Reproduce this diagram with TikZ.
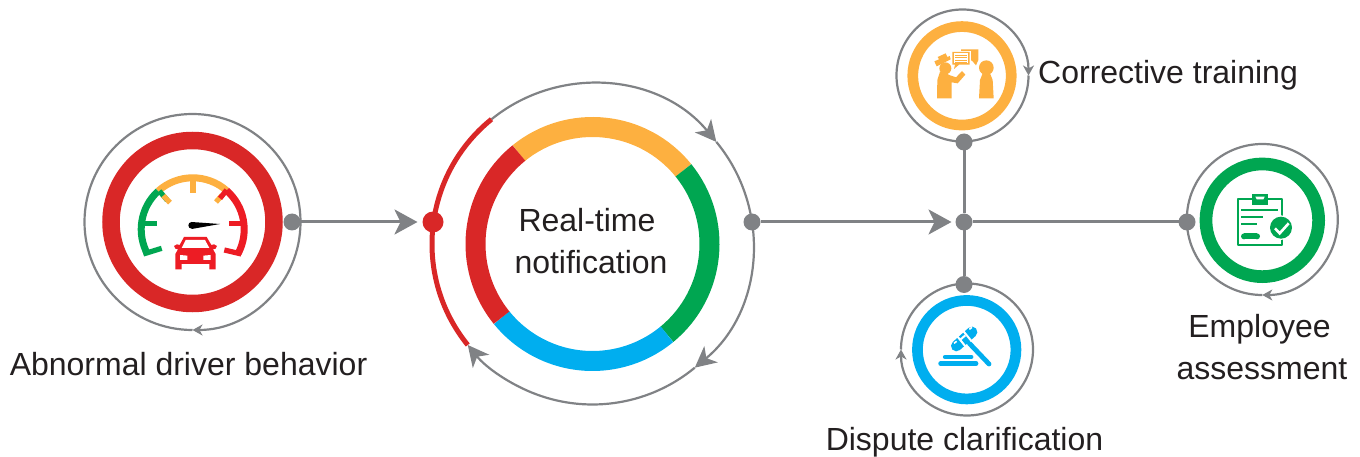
\documentclass[tikz,border=0pt]{standalone}
\usepackage{fontspec}
\setmainfont{Liberation Sans}
\usetikzlibrary{arrows.meta}
\definecolor{cgray}{HTML}{808285}
\definecolor{cred}{HTML}{D92727}
\definecolor{gred}{HTML}{ED1C24}
\definecolor{corange}{HTML}{FDB040}
\definecolor{cgreen}{HTML}{00A651}
\definecolor{cblue}{HTML}{00AEEF}
\definecolor{ctext}{HTML}{231F20}
\tikzset{
  ringnode/.style={circle,draw=#1,inner sep=0pt,outer sep=0pt,fill=white},
  hubdot/.style={circle,fill=cgray,inner sep=0pt,outer sep=0pt,minimum size=17pt},
  orbit/.style={draw=cgray,line width=2.2pt},
  midtip/.style={-{Stealth[length=21pt,width=21pt,inset=6pt]}},
  bigtip/.style={-{Stealth[length=23pt,width=25pt,inset=6pt]}},
  smalltip/.style={-{Stealth[length=10pt,width=11pt,inset=3pt]}},
  conn/.style={draw=cgray,line width=3pt},
  lbl/.style={text=ctext,font=\fontsize{32}{42}\selectfont,inner sep=0pt,align=center},
  icon/.style 2 args={shift={(#1pt,-#2pt)},x=.33333pt,y=-.33333pt}
}
\begin{document}
\begin{tikzpicture}[x=1pt,y=1pt]
\useasboundingbox (0,0) rectangle (1360,-457);
% orbits
\draw[orbit,smalltip] (192.5,-222) ++(-90:108) arc[start angle=-90,end angle=-450,radius=108];
\draw[orbit,smalltip] (962.5,-75.5) ++(0:66) arc[start angle=0,end angle=-360,radius=66];
\draw[orbit,smalltip] (967,-349.5) ++(180:66) arc[start angle=180,end angle=-180,radius=66];
\draw[orbit,smalltip] (1262.3,-219.5) ++(-90:75.5) arc[start angle=-90,end angle=-450,radius=75.5];
\coordinate (mc) at (592.5,-244);
\draw[orbit,midtip] (mc) ++(129:160.5) arc[start angle=129,end angle=39.5,radius=160.5];
\draw[orbit,midtip] (mc) ++(39.5:160.5) arc[start angle=39.5,end angle=-50.4,radius=160.5];
\draw[orbit,midtip] (mc) ++(-50.4:160.5) arc[start angle=-50.4,end angle=-141,radius=160.5];
\draw[cred,line width=5pt] (mc) ++(129:160.5) arc[start angle=129,end angle=219,radius=160.5];
% rings
\node[ringnode=cred,line width=17.5pt,minimum size=163pt] (car) at (192.5,-222) {};
\node[ringnode=corange,line width=10.7pt,minimum size=98.5pt] (train) at (962,-75.8) {};
\node[ringnode=cblue,line width=10.7pt,minimum size=98.5pt] (disp) at (966.7,-349.7) {};
\node[ringnode=cgreen,line width=12.7pt,minimum size=112.7pt] (assess) at (1262.3,-220.3) {};
% main ring
\foreach \a/\b/\c in {129/39/corange,39/-50.5/cgreen,-50.5/-141/cblue,-141/-231/cred}
  \draw[\c,line width=20pt] (mc) ++(\a:117) arc[start angle=\a,end angle=\b,radius=117];
% dots
\node[hubdot] (d1) at (292,-222) {};
\node[hubdot,fill=cred,minimum size=21pt] (d2) at (433,-222) {};
\node[hubdot] (d3) at (752,-222) {};
\node[hubdot] (hub) at (964,-222) {};
\node[hubdot] (dt) at (964,-142) {};
\node[hubdot] (db) at (964,-284.5) {};
\node[hubdot] (dg) at (1187,-222) {};
% connectors
\draw[conn,bigtip,shorten >=5pt] (d1) -- (d2);
\draw[conn,bigtip,shorten >=4pt] (d3) -- (hub);
\draw[conn] (dt) -- (hub);
\draw[conn] (hub) -- (db);
\draw[conn] (hub) -- (dg);
% gauge
\coordinate (gc) at (192.7,-229.3);
\draw[cgreen,line width=7pt] (gc) ++(209:51.5) arc[start angle=209,end angle=132,radius=51.5];
\draw[corange,line width=7pt] (gc) ++(132:51.5) arc[start angle=132,end angle=49,radius=51.5];
\draw[gred,line width=7pt] (gc) ++(49:51.5) arc[start angle=49,end angle=-28,radius=51.5];
\begin{scope}[icon={80}{110}]
 \draw[cgreen,line width=5.2pt] (190,432)--(245,415);
 \draw[cgreen,line width=5.2pt] (190,340)--(231,340);
 \draw[cgreen,line width=5.2pt] (238,243)--(262,271);
 \draw[corange,line width=5.2pt] (250,257)--(270,278);
 \draw[corange,line width=5.2pt] (339,205)--(339,249);
 \draw[corange,line width=5.2pt] (426,256)--(408,276);
 \draw[gred,line width=5.2pt] (440,240)--(420,265);
 \draw[gred,line width=5.2pt] (447,340)--(488,340);
 \draw[gred,line width=5.2pt] (484,432)--(433,420);
 \fill[black] (335,346) circle[radius=10];
 \fill[black] (335,336) -- (420,342) -- (335,357) -- cycle;
 % car
 \fill[gred] (312,381) -- (380,381) -- (394,405) -- (402,403) -- (411,408) -- (407,416) -- (399,418) -- (407,432) -- (407,478) -- (388,478) -- (388,462) -- (305,462) -- (305,478) -- (286,478) -- (286,432) -- (294,418) -- (286,416) -- (282,408) -- (291,403) -- (299,405) -- cycle;
 \fill[white] (317,390) -- (375,390) -- (388,414) -- (305,414) -- cycle;
 \fill[white] (300,435) -- (322,437) -- (322,450) -- (300,450) -- cycle;
 \fill[white] (392,435) -- (370,437) -- (370,450) -- (392,450) -- cycle;
\end{scope}
% training icon
\begin{scope}[icon={890}{0}]
 \fill[corange] (213,148) -- (265,148) -- (265,180) -- (258,196) -- (246,182) -- (213,182) -- cycle;
 \fill[white] (183,152) -- (243,152) -- (243,201) -- (183,201) -- cycle;
 \fill[corange] (187,156) -- (239,156) -- (239,194) -- (207,194) -- (192,207) -- (195,194) -- (187,194) -- cycle;
 \fill[white] (191,160) rectangle (235,190);
 \foreach \y in {165,172,179,186} \fill[corange] (195,\y) rectangle (231,\y+3);
 % hat
 \fill[corange] (133,184) -- (147,178) -- (143,171) -- (167,160) -- (172,171) -- (179,168) -- (182,178) -- (140,199) -- cycle;
 % head
 \fill[corange] (166,205) circle[radius=18];
 % body and arm
 \fill[corange] (141,295) -- (185,295) -- (185,247) -- (203,250) -- (226,224) -- (216,213) -- (198,232) -- (180,226) -- (168,220) -- (150,215) -- (142,240) -- cycle;
 % right person
 \fill[corange] (289,203) circle[radius=22];
 \fill[corange] (280,215) -- (298,215) -- (308,240) -- (311,295) -- (267,295) -- (270,240) -- cycle;
\end{scope}
% gavel icon
\begin{scope}[icon={890}{275}]
 \draw[cblue,line width=4.8pt,line cap=round] (238,205) -- (297,267);
 \draw[cblue,line width=10.7pt,line cap=round] (199,213) -- (246,171);
 \draw[white,line width=2pt] (201,183) -- (227,215);
 \draw[white,line width=2pt] (219,167) -- (245,199);
 \draw[white,line width=2pt] (212,193) -- (226,181);
 \draw[white,line width=1.6pt] (192,205) -- (200,199);
 \draw[white,line width=1.6pt] (238,163) -- (246,157);
 \draw[cblue,line width=4.2pt,line cap=round] (165,246) -- (244,246);
 \draw[cblue,line width=4.8pt,line cap=round] (152,266) -- (258,266);
\end{scope}
% assessment icon
\begin{scope}[icon={1175}{140}]
 \draw[cgreen,line width=1.9pt,line join=round] (230,177) -- (188,177) -- (188,315) -- (320,315) -- (320,177) -- (278,177);
 \fill[cgreen] (232,162) rectangle (278,194);
 \fill[white] (241,170) -- (269,170) -- (265,178) -- (245,178) -- cycle;
 \draw[cgreen,line width=2pt] (198,211) -- (310,211);
 \draw[cgreen,line width=2pt] (198,231) -- (265,231);
 \draw[cgreen,line width=2pt] (198,251) -- (247,251);
 \fill[cgreen] (207,280) rectangle (246,298);
 \fill[cgreen] (207,289) circle[radius=9];
 \fill[cgreen] (246,289) circle[radius=9];
 \fill[white] (318,263) circle[radius=37];
 \fill[cgreen] (318,263) circle[radius=33];
 \draw[white,line width=2.6pt] (300,265) -- (314,280) -- (341,250);
\end{scope}
% labels
\node[lbl,anchor=base west] (t1) at (1038,-84) {Corrective training};
\node[lbl] (t2) at (1262,-347.5) {Employee\hspace*{5pt}\\assessment};
\node[lbl,anchor=base] (t3) at (964.5,-450) {Dispute clarification};
\node[lbl,anchor=base] (t4) at (188.5,-375.5) {Abnormal driver behavior};
\node[lbl] (t5) at (591,-241.5) {Real-time\hspace*{8pt}\\notification};
\end{tikzpicture}
\end{document}
